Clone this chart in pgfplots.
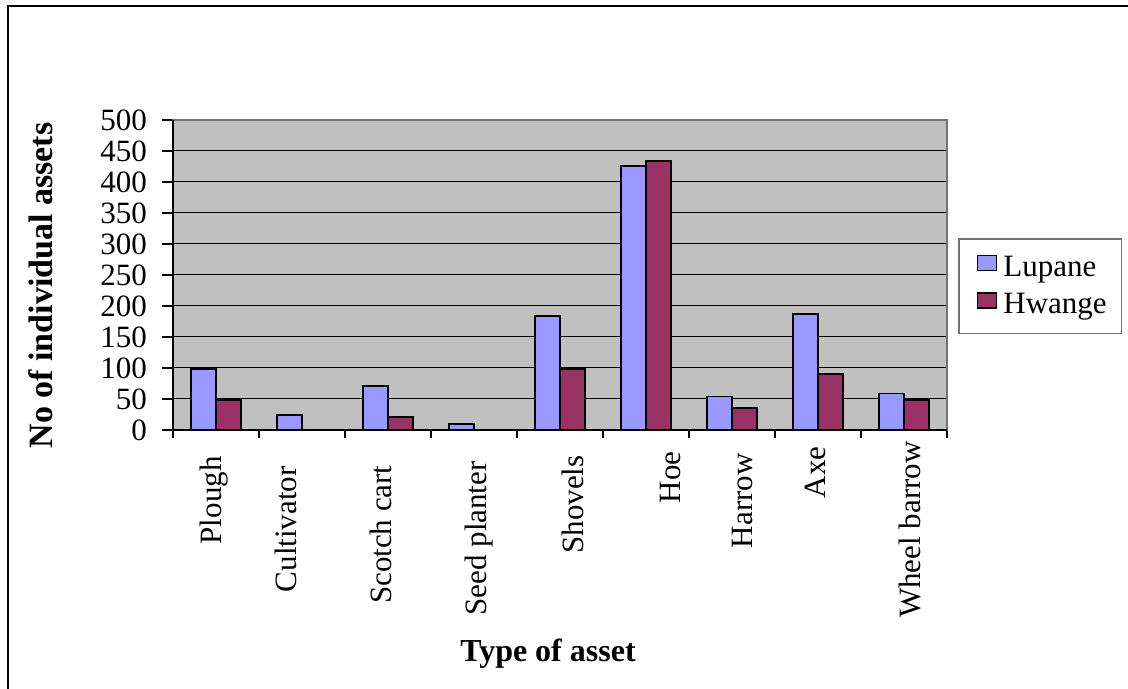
\documentclass[border=0pt]{standalone}
\usepackage{fontspec}
\setmainfont{Liberation Serif}
\usepackage{pgfplots}
\pgfplotsset{compat=1.18}
\definecolor{lup}{HTML}{9999FF}
\definecolor{hwa}{HTML}{993366}
\definecolor{plotbg}{HTML}{C0C0C0}
\newcommand{\pad}[1]{\rule{#1}{0pt}}
\begin{document}
\begin{tikzpicture}
\useasboundingbox (-86.5pt,-129.5pt) rectangle (477.5pt,215pt);
\draw[line width=1pt] (-82.25pt,-130pt) -- (-82.25pt,211.75pt) -- (478pt,211.75pt);
\begin{axis}[
  at={(0pt,0pt)}, anchor=south west,
  scale only axis, width=387pt, height=155pt,
  xmin=-0.5, xmax=8.5, ymin=0, ymax=500,
  ytick={0,50,...,500},
  xtick={-0.070,0.767,1.872,3.012,4.105,5.244,6.081,6.919,8.023},
  xticklabels={Plough\pad{7.5pt},Cultivator\pad{12.5pt},Scotch cart\pad{12pt},Seed planter\pad{10pt},Shovels\pad{7pt},Hoe\pad{5pt},Harrow\pad{6pt},Axe\pad{2.5pt},Wheel barrow},
  minor xtick={-0.5,0.5,...,8.5},
  every major x tick/.append style={draw=none},
  every minor x tick/.append style={black, line width=0.6pt},
  minor tick length=4pt,
  major tick length=5.5pt,
  tick align=outside, tick pos=left,
  every major y tick/.append style={black, line width=0.6pt},
  ymajorgrids, major grid style={black, line width=0.5pt},
  axis background/.style={fill=plotbg},
  axis line style={draw=black!55, line width=0.8pt},
  /pgf/number format/assume math mode=true,
  yticklabel style={font=\fontsize{15.5}{18}\selectfont, xshift=-4pt},
  xticklabel style={font=\fontsize{15.5}{18}\selectfont, rotate=90, anchor=east, inner sep=0pt, yshift=-2pt},
  xlabel={\textbf{Type of asset}},
  ylabel={\textbf{No of individual assets}},
  xlabel style={font=\fontsize{16}{19}\selectfont, at={(axis description cs:0.4845,-0.72)}, anchor=center},
  ylabel style={font=\fontsize{17}{20}\selectfont, at={(axis description cs:-0.1705,0.466)}, anchor=center},
  ybar=0pt, bar width=12.5pt,
  legend style={at={(1.0142,0.619)}, anchor=north west, draw=black!55, line width=0.8pt,
    font=\fontsize{15.5}{18}\selectfont, inner xsep=5.5pt, inner ysep=6.5pt, row sep=3pt},
  legend cell align=left,
  legend image code/.code={\draw[#1, line width=0.8pt] (0pt,-1.5pt) rectangle (9.5pt,6pt); \path (-3.5pt,0pt) (10.5pt,0pt);},
  after end axis/.code={
    \draw[black, line width=0.8pt] (rel axis cs:0,0) -- (rel axis cs:0,1);
    \draw[black, line width=0.8pt] (rel axis cs:0,0) -- (rel axis cs:1,0);
  },
]
\addplot[fill=lup, draw=black, line width=0.8pt] coordinates {
  (0,98) (1,24) (2,71) (3,10) (4,184) (5,426) (6,54) (7,187) (8,59)};
\addplot[fill=hwa, draw=black, line width=0.8pt] coordinates {
  (0,48) (2,21) (4,98) (5,434) (6,35) (7,90) (8,48)};
\legend{Lupane,Hwange}
\end{axis}
\end{tikzpicture}
\end{document}
